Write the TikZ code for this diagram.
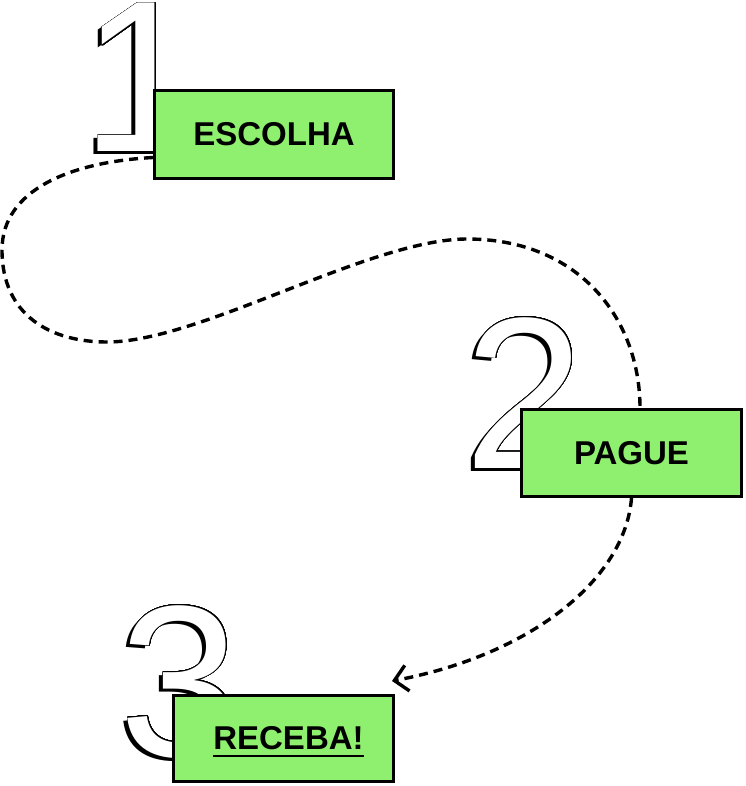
\documentclass[tikz,border=0pt]{standalone}
\usepackage{fontspec}
\usepackage[copies]{contour}
\usetikzlibrary{arrows.meta}

\newfontfamily\ziffernschrift{Liberation Sans}
\newfontfamily\kastenschrift{Liberation Sans}
\definecolor{gruen}{HTML}{8FF06F}
\contourlength{0.7pt}
\contournumber{32}

% Unterstrich unter dem Text
\newcommand\unterstrich[1]{\setbox0\hbox{#1}%
	\rlap{\raisebox{-7pt}[0pt][0pt]{\rule{\wd0}{2.2pt}}}\box0}

\tikzset{
	kasten/.style={draw=black, line width=3pt, fill=gruen, inner sep=0pt,
		minimum width=220pt, minimum height=87pt,
		font=\kastenschrift\bfseries\fontsize{33}{40}\selectfont},
	ziffer/.style={anchor=base, inner sep=0pt,
		font=\ziffernschrift\fontsize{216}{216}\selectfont},
	weg/.style={line width=3.4pt, dash pattern=on 9pt off 6pt},
}

\begin{document}
\begin{tikzpicture}[x=1pt, y=-1pt]
	\useasboundingbox (0,0) rectangle (745,786);
	% Ziffern mit Schatten
	\foreach \n/\x/\y in {1/142/152, 2/525/468, 3/180/756}{
		\node[ziffer, text=black] (schatten\n) at (\x-4, \y+3) {\n};
		\node[ziffer, text=white] (ziffer\n) at (\x, \y) {\contour{black}{\n}};
	}
	% Kaesten
	\node[kasten, minimum width=239pt, minimum height=88pt] (waehle) at (274,
	134.5) {ESCOLHA};
	\node[kasten] (zahle) at (631.5, 453) {PAGUE};
	\node[kasten, minimum height=86pt] (erhalte) at (283.5, 738.5)
	{\hspace*{10pt}\unterstrich{RECEBA!}};

	% Wege
	\coordinate (spitze) at (392, 681);
	\draw[weg] ([yshift=-23pt]waehle.west) .. controls (70, 162) and (2, 190)
	.. (2, 250) .. controls (2, 315) and (50, 342) .. (107, 342)
	.. controls (200, 342) and (370, 239) .. (467, 239)
	.. controls (580, 239) and (640, 320) .. ([xshift=8.5pt]zahle.north);
	\draw[weg, -{Straight Barb[length=13pt, width=26pt]}] (zahle.south)
	.. controls (625, 580) and (530, 655) .. (spitze);
\end{tikzpicture}
\end{document}
